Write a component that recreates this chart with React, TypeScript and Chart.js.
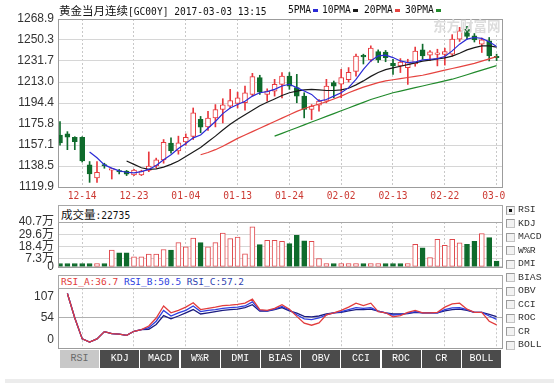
import React, { useEffect, useRef } from "react";
import { Chart, registerables } from "chart.js";
Chart.register(...registerables);

const DATES = ["12-09","12-12","12-13","12-14","12-15","12-16","12-19","12-20","12-21","12-22","12-23","12-26","12-27","12-28","12-29","12-30","01-03","01-04","01-05","01-06","01-09","01-10","01-11","01-12","01-13","01-16","01-17","01-18","01-19","01-20","01-23","01-24","01-25","01-26","01-27","01-30","01-31","02-01","02-02","02-03","02-06","02-07","02-08","02-09","02-10","02-13","02-14","02-15","02-16","02-17","02-20","02-21","02-22","02-23","02-24","02-27","02-28","03-01","03-02","03-03"];
const DATE_TICKS = ["12-14","12-23","01-04","01-13","01-24","02-02","02-13","02-22","03-03"];

const OPEN = [1166,1167,1164,1164,1139.5,1128,1139,1134.8,1134,1134,1130.6,1130.6,1134.5,1138.6,1143.9,1158.9,1152,1159.8,1164.8,1180,1173.1,1181.2,1188.6,1191.6,1194,1194.6,1202,1216.9,1202,1205,1210.9,1218.3,1208,1200.5,1188.6,1192.4,1196,1212.4,1211,1215,1222.5,1236,1232.5,1240,1239.5,1229.6,1227.3,1225.8,1229,1241.5,1236.8,1237.5,1237.5,1237.7,1251,1260,1254,1246.6,1249.5,1235];
const HIGH = [1178,1169,1164.5,1164.5,1142.5,1142.5,1141,1136,1135.5,1134.6,1135.5,1134.8,1151,1145.5,1162,1163.4,1165,1167,1190,1182.5,1187,1193,1198.2,1206.5,1204,1209.5,1220.7,1219,1207,1215.4,1221.4,1221.4,1219.8,1203.5,1193,1197.5,1215.4,1213.9,1224.3,1225.8,1237.7,1237.7,1245.1,1241.5,1241,1233.2,1233.8,1233.2,1244,1246.6,1241,1242.1,1243,1255,1261.5,1262.4,1256,1252,1252.5,1237.7];
const LOW = [1157,1153,1153,1142,1124,1124,1136.5,1127,1131.5,1130,1130,1130,1133.5,1137,1141,1150,1149,1157,1162,1168,1170,1173.2,1176.7,1190,1190,1188,1200.5,1202,1196,1200.5,1199,1206.5,1194.6,1181.2,1179.7,1187.1,1194.6,1199,1199,1213,1218.3,1229,1231,1230.3,1231,1219.8,1221.4,1210.9,1227,1233.2,1232,1227.3,1228,1236,1249,1251,1248.5,1239.2,1231.7,1232];
const CLOSE = [1159,1164,1160,1143,1131.5,1133,1138.5,1135.5,1133.2,1131.3,1134.8,1134,1138.5,1143.9,1159.5,1152,1159,1164,1185.7,1173,1181,1188.6,1192.8,1196.6,1199,1203.5,1217.8,1204,1205,1210.9,1218.3,1209.4,1200.5,1188.6,1191.6,1196,1209.4,1209.4,1217,1221.5,1236,1235.3,1243.2,1232.6,1234.5,1227.3,1230.8,1230.3,1240.5,1236.2,1239.7,1239,1240,1251,1258.5,1253.5,1250.4,1250.4,1236.2,1234.5];

const MA5 = [null,null,null,null,1151,1145.8,1139.5,1136.6,1134.2,1133,1132.5,1133.5,1135.5,1139,1144,1148.5,1154,1158.5,1163.5,1166,1172,1178,1185,1190,1193,1196,1200.5,1203.5,1204.5,1206.5,1209.5,1211,1208,1205,1202,1196,1197.5,1200.5,1203.5,1208,1215.4,1224.3,1231.7,1236.2,1236.8,1234.7,1231.7,1230.3,1230.8,1232.6,1233.2,1233.8,1235.6,1240.6,1246.6,1251,1252.5,1251.7,1248.7,1244.5];
const MA10 = [null,null,null,null,null,null,null,null,null,1143,1140,1137,1135.5,1136,1137.5,1140,1143,1147,1151,1155,1160,1165,1170.5,1175.5,1180,1184,1188,1192,1195,1198,1201,1203.5,1205,1206,1206.5,1206,1205.5,1205.5,1206,1207.5,1210.5,1214,1218,1221.5,1224,1225.5,1227,1228.5,1230,1231.5,1232.5,1233.5,1234.5,1236,1238.5,1241.5,1243.5,1245,1245,1244];
const MA20 = [null,null,null,null,null,null,null,null,null,null,null,null,null,null,null,null,null,null,null,1148.5,1150.5,1153,1156,1159.5,1163,1166,1169,1172,1175,1178,1181,1184,1187,1189.5,1191.5,1193.5,1195.5,1198,1200.5,1203.5,1206,1208.5,1210.5,1212.5,1214,1215,1216,1217,1218,1219,1220.5,1222,1223.5,1225,1226.5,1228,1229.5,1231.5,1233.5,1235.5];
const MA30 = [null,null,null,null,null,null,null,null,null,null,null,null,null,null,null,null,null,null,null,null,null,null,null,null,null,null,null,null,null,1165,1167.5,1170,1172.5,1175,1177.5,1180,1182.5,1185,1187.5,1190,1192.5,1195,1197.5,1199.5,1201.5,1203.5,1205,1206.5,1208,1209.5,1211,1212.5,1214,1215.5,1217.5,1219.5,1221.5,1223.5,1225.5,1227.5];

// volume in 万
const VOLUME = [3,3,3,3,3,3,3,15.1,12.7,12.7,9,9,11.5,11.5,15.7,15.1,22,18.1,26.2,22,18.1,22,30.7,25.6,27.1,11.8,36.2,20.2,24.1,24.1,23.2,21.1,28.6,23.5,23.2,7.5,3,3,3,3,3,3,3,3,3,3,3,3,20.5,17.2,8.4,25,19.6,25,21.7,20.5,23.2,30.1,26.5,5.1];
const VOLUME_RISE = [0,0,0,0,0,1,0,1,0,0,1,1,1,1,1,0,1,1,1,0,1,1,1,1,1,1,1,0,1,1,1,0,0,0,1,1,1,0,1,1,1,0,1,1,0,0,0,1,1,0,1,1,1,1,1,0,0,1,0,0];

const RSI_A = [null,115,54,2,-6,2,20,15,14,11,21,25,34,54,84,67,73,81,92,75,78,81,85,86,88,91,101,75,73,78,87,76,58,41,36,42,62,67,73,81,91,85,91,70,67,57,60,68,73,67,67,68,81,89,91,76,68,68,46,36.7];
const RSI_B = [null,115,54,2,-6,2,20,15,14,11,21,25,30,46,73,59,67,73,84,70,73,75,78,80,81,84,94,73,72,76,83,74,62,52,50,54,62,67,70,75,80,78,80,71,67,61,63,66,70,67,67,67,75,79,80,75,68,68,59,50.5];
const RSI_C = [null,115,54,2,-6,2,20,15,14,11,21,25,26,38,60,52,59,67,75,64,67,70,73,75,76,80,87,71,71,75,80,72,66,58,57,59,64,67,68,72,75,75,76,71,67,64,64,65,68,67,67,67,72,75,76,73,68,68,63,57.2];

const PRICE_TICKS = [1119.9, 1138.5, 1157.1, 1175.8, 1194.4, 1213.0, 1231.7, 1250.3, 1268.9];
const VOLUME_TICKS = [0, 7.3, 18.4, 29.6, 40.7];
const RSI_TICKS = [0, 54, 107];
const INDICATORS = ["RSI","KDJ","MACD","W%R","DMI","BIAS","OBV","CCI","ROC","CR","BOLL"];
const LAST_VOLUME = "22735";
const RSI_LAST = ["36.7", "50.5", "57.2"];

const RED = "#e8383d";
const GREEN = "#0f6b2c";
const MONO = "'DejaVu Sans Mono', monospace";
const SMONO = "'Liberation Mono', monospace";
const CJK = "'Noto Sans CJK SC', sans-serif";
const SANS = "'Liberation Sans', 'Noto Sans CJK SC', sans-serif";

const framePlugin = {
  id: "frame",
  afterDraw(chart: any) {
    const { ctx, chartArea: a } = chart;
    ctx.save();
    ctx.strokeStyle = "#9c9c9c";
    ctx.lineWidth = 1;
    ctx.strokeRect(Math.round(a.left) + 0.5, Math.round(a.top) + 0.5, Math.round(a.right - a.left) - 1, Math.round(a.bottom - a.top));
    ctx.restore();
  },
};

function xScale(showLabels: boolean, height: number) {
  return {
    type: "linear",
    min: -0.27,
    max: 59.865,
    offset: false,
    afterBuildTicks: (s: any) => {
      s.ticks = DATE_TICKS.map((d) => ({ value: DATES.indexOf(d) }));
    },
    afterFit: (s: any) => {
      s.height = height;
    },
    ticks: {
      display: showLabels,
      autoSkip: false,
      maxRotation: 0,
      padding: 4,
      color: "#cc3a33",
      font: { family: MONO, size: 9.6 },
      callback: (v: any) => DATES[Math.round(v)],
    },
    grid: { color: "#c8c8c8", drawTicks: false, offset: false, lineWidth: 1 },
    border: { display: false, dash: [2, 2] },
  };
}

function yScale(min: number, max: number, ticks: number[], fmt: (v: number) => string, gridColor: any) {
  return {
    min,
    max,
    afterBuildTicks: (s: any) => {
      s.ticks = ticks.map((v) => ({ value: v }));
    },
    afterFit: (s: any) => {
      s.width = 58;
    },
    ticks: {
      autoSkip: false,
      color: "#333",
      padding: 4,
      font: { family: SANS, size: 12, lineHeight: 0.7 },
      callback: (v: any) => fmt(Number(v)),
    },
    grid: { color: gridColor, drawTicks: false },
    border: { display: false },
  };
}

function maLine(values: (number | null)[], color: string) {
  return {
    type: "line",
    data: values.map((y, x) => ({ x, y })),
    borderColor: color,
    borderWidth: 1.2,
    pointRadius: 0,
    fill: false,
    order: 0,
  };
}

export default function App() {
  const mainRef = useRef<HTMLCanvasElement>(null);
  const volRef = useRef<HTMLCanvasElement>(null);
  const rsiRef = useRef<HTMLCanvasElement>(null);

  useEffect(() => {
    const rise = CLOSE.map((c, i) => c >= OPEN[i]);
    const common = {
      responsive: false,
      animation: false,
      events: [],
      plugins: { legend: { display: false }, tooltip: { enabled: false } },
    };
    const main = new Chart(mainRef.current as HTMLCanvasElement, {
      type: "bar",
      data: {
        datasets: [
          maLine(MA5, "#2b2bd6"),
          maLine(MA10, "#1a1a1a"),
          maLine(MA20, "#e5433f"),
          maLine(MA30, "#218a2c"),
          {
            type: "bar",
            data: OPEN.map((o, x) => ({ x, y: [o, CLOSE[x]] })),
            backgroundColor: rise.map((r) => (r ? "#ffffff" : GREEN)),
            borderColor: rise.map((r) => (r ? RED : GREEN)),
            borderWidth: 1,
            borderSkipped: false,
            barThickness: 5,
            minBarLength: 1.5,
            grouped: false,
            order: 4,
          },
          {
            type: "bar",
            data: LOW.map((l, x) => ({ x, y: [l, HIGH[x]] })),
            backgroundColor: rise.map((r) => (r ? RED : GREEN)),
            barThickness: 1,
            grouped: false,
            order: 5,
          },
        ],
      } as any,
      options: {
        ...common,
        layout: { padding: { left: 0, right: 51, top: 19, bottom: 0 } },
        scales: {
          x: xScale(true, 16),
          y: yScale(1119.9, 1268.9, PRICE_TICKS, (v) => v.toFixed(1), "#d6d6d6"),
        },
      } as any,
      plugins: [framePlugin],
    });

    const vol = new Chart(volRef.current as HTMLCanvasElement, {
      type: "bar",
      data: {
        datasets: [
          {
            data: VOLUME.map((y, x) => ({ x, y })),
            backgroundColor: VOLUME_RISE.map((r) => (r ? "#ffffff" : GREEN)),
            borderColor: VOLUME_RISE.map((r) => (r ? "#e0484c" : GREEN)),
            borderWidth: 1,
            borderSkipped: false,
            barThickness: 5,
            grouped: false,
          },
        ],
      } as any,
      options: {
        ...common,
        layout: { padding: { left: 0, right: 51, top: 19, bottom: 8 } },
        scales: {
          x: xScale(false, 0),
          y: yScale(0, 40.7, VOLUME_TICKS, (v) => (v === 0 ? "0" : v.toFixed(1) + "万"), "#d6d6d6"),
        },
      } as any,
      plugins: [framePlugin],
    });

    const rsi = new Chart(rsiRef.current as HTMLCanvasElement, {
      type: "line",
      data: {
        datasets: [
          { data: RSI_A.map((y, x) => ({ x, y })), borderColor: "#e23c3c", borderWidth: 1.3, pointRadius: 0, order: 0 },
          { data: RSI_B.map((y, x) => ({ x, y })), borderColor: "#2f3fe0", borderWidth: 1.3, pointRadius: 0, order: 1 },
          { data: RSI_C.map((y, x) => ({ x, y })), borderColor: "#1c1c80", borderWidth: 1.3, pointRadius: 0, order: 2 },
        ],
      } as any,
      options: {
        ...common,
        layout: { padding: { left: 0, right: 51, top: 8, bottom: 7 } },
        scales: {
          x: xScale(false, 0),
          y: yScale(-20.2, 128.2, RSI_TICKS, (v) => String(v), (c: any) => (c.tick && c.tick.value === 54 ? "#b0b0b0" : "rgba(0,0,0,0)")),
        },
      } as any,
      plugins: [framePlugin],
    });

    return () => {
      main.destroy();
      vol.destroy();
      rsi.destroy();
    };
  }, []);

  const abs = (s: any) => ({ position: "absolute" as const, ...s });

  return (
    <div style={{ position: "absolute", left: 0, top: 0, width: 554, height: 383, background: "#fff", overflow: "hidden" }}>
      <canvas ref={mainRef} width={554} height={203} style={abs({ left: 0, top: 0 })} />
      <canvas ref={volRef} width={554} height={72} style={abs({ left: 0, top: 203 })} />
      <canvas ref={rsiRef} width={554} height={76} style={abs({ left: 0, top: 280 })} />

      {/* clip the last date label */}
      <div style={abs({ left: 505, top: 188, width: 49, height: 14, background: "#fff" })} />

      {/* title */}
      <div style={abs({ left: 59, top: 2, whiteSpace: "nowrap", lineHeight: "16px", color: "#111" })}>
        <span style={{ fontFamily: CJK, fontSize: 11.5 }}>黄金当月连续</span>
        <span style={{ fontFamily: MONO, fontSize: 9.6 }}>[GC00Y] 2017-03-03 13:15</span>
      </div>

      {/* legend */}
      {[
        { t: "5PMA", x: 288, c: "#2b2bd6" },
        { t: "10PMA", x: 322, c: "#1a1a1a" },
        { t: "20PMA", x: 364, c: "#e5433f" },
        { t: "30PMA", x: 405, c: "#218a2c" },
      ].map((l) => (
        <React.Fragment key={l.t}>
          <div style={abs({ left: l.x, top: 2, fontFamily: MONO, fontSize: 9.6, lineHeight: "16px", color: "#111", whiteSpace: "nowrap" })}>{l.t}</div>
          <div style={abs({ left: l.x + l.t.length * 5.8 + 2, top: 9, width: 5, height: 3, background: l.c })} />
        </React.Fragment>
      ))}

      {/* watermark */}
      <div style={abs({ left: 433, top: 15, fontFamily: CJK, fontSize: 13.5, fontWeight: 700, color: "#dcdcdc", whiteSpace: "nowrap" })}>东方财富网</div>

      {/* volume header */}
      <div style={abs({ left: 58, top: 205, width: 445, height: 18, border: "1px solid #a8a8a8", boxSizing: "border-box", paddingLeft: 2, lineHeight: "15px", whiteSpace: "nowrap", color: "#111", background: "#fff" })}>
        <span style={{ fontFamily: CJK, fontSize: 11.5 }}>成交量</span>
        <span style={{ fontFamily: MONO, fontSize: 9.6 }}>:{LAST_VOLUME}</span>
      </div>

      {/* RSI header */}
      <div style={abs({ left: 58, top: 275, width: 445, height: 14, border: "1px solid #a8a8a8", boxSizing: "border-box", paddingLeft: 2, lineHeight: "12px", whiteSpace: "pre", fontFamily: MONO, fontSize: 9.5, background: "#fff" })}>
        <span style={{ color: "#e23c3c" }}>{"RSI_A:" + RSI_LAST[0]}</span>
        <span style={{ color: "#2f3fe0" }}>{" RSI_B:" + RSI_LAST[1]}</span>
        <span style={{ color: "#2f3fb0" }}>{" RSI_C:" + RSI_LAST[2]}</span>
      </div>

      {/* buttons */}
      {INDICATORS.map((t, i) => (
        <div
          key={t}
          style={abs({
            left: 60 + i * 40.2,
            top: 350,
            width: 39,
            height: 18,
            background: i === 0 ? "#c8c8c8" : "#4b4b4b",
            color: i === 0 ? "#6a6a6a" : "#ffffff",
            fontFamily: SMONO,
            fontSize: 10,
            lineHeight: "18px",
            textAlign: "center",
          })}
        >
          {t}
        </div>
      ))}

      {/* checkbox list */}
      {INDICATORS.map((t, i) => (
        <React.Fragment key={"c" + t}>
          <div style={abs({ left: 506, top: 205.5 + i * 13.5, width: 9, height: 9, boxSizing: "border-box", border: "1px solid #c4c4c4", borderTopColor: "#9a9a9a", borderLeftColor: "#9a9a9a", background: "#f2f2f2" })}>
            {i === 0 ? <div style={abs({ left: 2, top: 2, width: 3, height: 3, background: "#111" })} /> : null}
          </div>
          <div style={abs({ left: 518, top: 203 + i * 13.5, fontFamily: SMONO, fontSize: 9.8, lineHeight: "14px", color: "#333", whiteSpace: "nowrap" })}>{t}</div>
        </React.Fragment>
      ))}

      {/* bottom strip */}
      <div style={abs({ left: 5, top: 379, width: 549, height: 4, background: "#ececec" })} />
    </div>
  );
}
